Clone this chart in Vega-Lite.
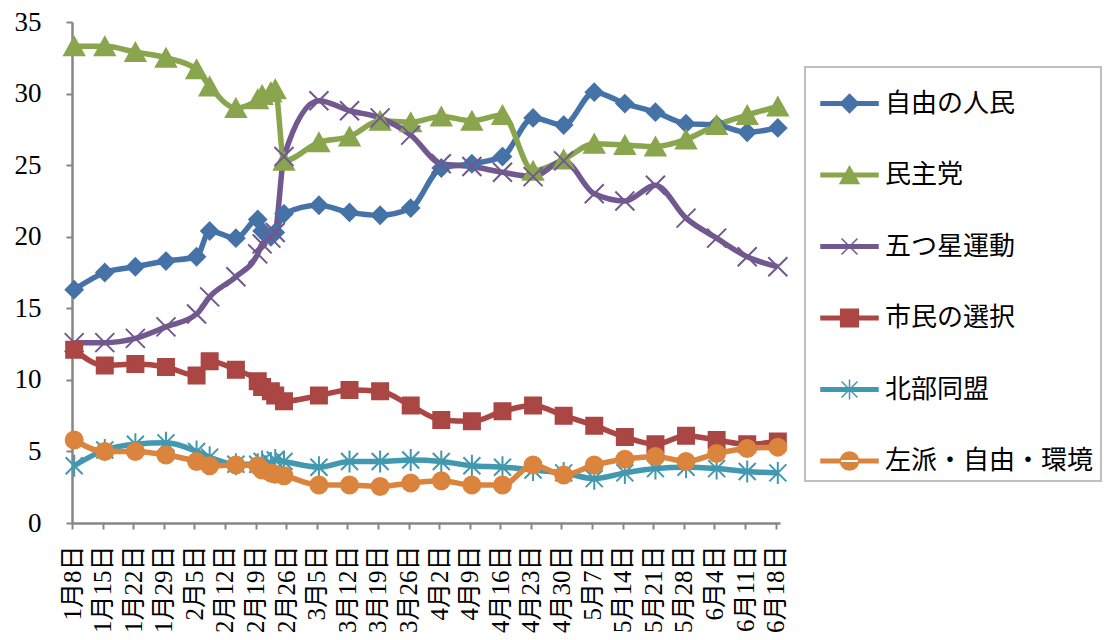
{
  "$schema": "https://vega.github.io/schema/vega-lite/v6.json",
  "width": 708,
  "height": 501,
  "autosize": "none",
  "padding": {"left": 72, "top": 22, "right": 330, "bottom": 117},
  "background": "white",
  "config": {"view": {"stroke": null}, "font": "'Liberation Serif','Noto Sans CJK JP'"},
  "data": {"values": [
    {"d":"2013-01-08T12:00","p":"自由の人民","v":16.3},{"d":"2013-01-15T12:00","p":"自由の人民","v":17.5},{"d":"2013-01-22T12:00","p":"自由の人民","v":17.9},{"d":"2013-01-29T12:00","p":"自由の人民","v":18.3},{"d":"2013-02-05T12:00","p":"自由の人民","v":18.6},{"d":"2013-02-08T12:00","p":"自由の人民","v":20.4},{"d":"2013-02-14T12:00","p":"自由の人民","v":19.9},{"d":"2013-02-19T12:00","p":"自由の人民","v":21.2},{"d":"2013-02-20T12:00","p":"自由の人民","v":20.4},{"d":"2013-02-22T12:00","p":"自由の人民","v":20.0},{"d":"2013-02-23T12:00","p":"自由の人民","v":20.3},{"d":"2013-02-25T12:00","p":"自由の人民","v":21.6},{"d":"2013-03-05T12:00","p":"自由の人民","v":22.2},{"d":"2013-03-12T12:00","p":"自由の人民","v":21.7},{"d":"2013-03-19T12:00","p":"自由の人民","v":21.5},{"d":"2013-03-26T12:00","p":"自由の人民","v":22.0},{"d":"2013-04-02T12:00","p":"自由の人民","v":24.8},{"d":"2013-04-09T12:00","p":"自由の人民","v":25.1},{"d":"2013-04-16T12:00","p":"自由の人民","v":25.6},{"d":"2013-04-23T12:00","p":"自由の人民","v":28.3},{"d":"2013-04-30T12:00","p":"自由の人民","v":27.8},{"d":"2013-05-07T12:00","p":"自由の人民","v":30.1},{"d":"2013-05-14T12:00","p":"自由の人民","v":29.3},{"d":"2013-05-21T12:00","p":"自由の人民","v":28.7},{"d":"2013-05-28T12:00","p":"自由の人民","v":27.9},{"d":"2013-06-04T12:00","p":"自由の人民","v":27.8},{"d":"2013-06-11T12:00","p":"自由の人民","v":27.3},{"d":"2013-06-18T12:00","p":"自由の人民","v":27.6},
    {"d":"2013-01-08T12:00","p":"民主党","v":33.3},{"d":"2013-01-15T12:00","p":"民主党","v":33.3},{"d":"2013-01-22T12:00","p":"民主党","v":32.9},{"d":"2013-01-29T12:00","p":"民主党","v":32.5},{"d":"2013-02-05T12:00","p":"民主党","v":31.7},{"d":"2013-02-08T12:00","p":"民主党","v":30.5},{"d":"2013-02-14T12:00","p":"民主党","v":29.0},{"d":"2013-02-19T12:00","p":"民主党","v":29.6},{"d":"2013-02-20T12:00","p":"民主党","v":29.9},{"d":"2013-02-22T12:00","p":"民主党","v":30.1},{"d":"2013-02-23T12:00","p":"民主党","v":30.3},{"d":"2013-02-25T12:00","p":"民主党","v":25.3},{"d":"2013-03-05T12:00","p":"民主党","v":26.6},{"d":"2013-03-12T12:00","p":"民主党","v":27.0},{"d":"2013-03-19T12:00","p":"民主党","v":28.1},{"d":"2013-03-26T12:00","p":"民主党","v":28.0},{"d":"2013-04-02T12:00","p":"民主党","v":28.4},{"d":"2013-04-09T12:00","p":"民主党","v":28.1},{"d":"2013-04-16T12:00","p":"民主党","v":28.5},{"d":"2013-04-23T12:00","p":"民主党","v":24.6},{"d":"2013-04-30T12:00","p":"民主党","v":25.4},{"d":"2013-05-07T12:00","p":"民主党","v":26.5},{"d":"2013-05-14T12:00","p":"民主党","v":26.4},{"d":"2013-05-21T12:00","p":"民主党","v":26.3},{"d":"2013-05-28T12:00","p":"民主党","v":26.8},{"d":"2013-06-04T12:00","p":"民主党","v":27.8},{"d":"2013-06-11T12:00","p":"民主党","v":28.5},{"d":"2013-06-18T12:00","p":"民主党","v":29.1},
    {"d":"2013-01-08T12:00","p":"五つ星運動","v":12.6},{"d":"2013-01-15T12:00","p":"五つ星運動","v":12.6},{"d":"2013-01-22T12:00","p":"五つ星運動","v":12.9},{"d":"2013-01-29T12:00","p":"五つ星運動","v":13.7},{"d":"2013-02-05T12:00","p":"五つ星運動","v":14.6},{"d":"2013-02-08T12:00","p":"五つ星運動","v":15.8},{"d":"2013-02-14T12:00","p":"五つ星運動","v":17.2},{"d":"2013-02-19T12:00","p":"五つ星運動","v":18.8},{"d":"2013-02-20T12:00","p":"五つ星運動","v":19.5},{"d":"2013-02-22T12:00","p":"五つ星運動","v":19.9},{"d":"2013-02-23T12:00","p":"五つ星運動","v":20.3},{"d":"2013-02-25T12:00","p":"五つ星運動","v":25.6},{"d":"2013-03-05T12:00","p":"五つ星運動","v":29.5},{"d":"2013-03-12T12:00","p":"五つ星運動","v":28.8},{"d":"2013-03-19T12:00","p":"五つ星運動","v":28.3},{"d":"2013-03-26T12:00","p":"五つ星運動","v":27.1},{"d":"2013-04-02T12:00","p":"五つ星運動","v":25.1},{"d":"2013-04-09T12:00","p":"五つ星運動","v":24.9},{"d":"2013-04-16T12:00","p":"五つ星運動","v":24.5},{"d":"2013-04-23T12:00","p":"五つ星運動","v":24.2},{"d":"2013-04-30T12:00","p":"五つ星運動","v":25.3},{"d":"2013-05-07T12:00","p":"五つ星運動","v":23.0},{"d":"2013-05-14T12:00","p":"五つ星運動","v":22.5},{"d":"2013-05-21T12:00","p":"五つ星運動","v":23.6},{"d":"2013-05-28T12:00","p":"五つ星運動","v":21.3},{"d":"2013-06-04T12:00","p":"五つ星運動","v":19.9},{"d":"2013-06-11T12:00","p":"五つ星運動","v":18.6},{"d":"2013-06-18T12:00","p":"五つ星運動","v":17.9},
    {"d":"2013-01-08T12:00","p":"市民の選択","v":12.1},{"d":"2013-01-15T12:00","p":"市民の選択","v":11.0},{"d":"2013-01-22T12:00","p":"市民の選択","v":11.1},{"d":"2013-01-29T12:00","p":"市民の選択","v":10.9},{"d":"2013-02-05T12:00","p":"市民の選択","v":10.3},{"d":"2013-02-08T12:00","p":"市民の選択","v":11.3},{"d":"2013-02-14T12:00","p":"市民の選択","v":10.7},{"d":"2013-02-19T12:00","p":"市民の選択","v":9.9},{"d":"2013-02-20T12:00","p":"市民の選択","v":9.5},{"d":"2013-02-22T12:00","p":"市民の選択","v":9.2},{"d":"2013-02-23T12:00","p":"市民の選択","v":8.9},{"d":"2013-02-25T12:00","p":"市民の選択","v":8.5},{"d":"2013-03-05T12:00","p":"市民の選択","v":8.9},{"d":"2013-03-12T12:00","p":"市民の選択","v":9.3},{"d":"2013-03-19T12:00","p":"市民の選択","v":9.2},{"d":"2013-03-26T12:00","p":"市民の選択","v":8.2},{"d":"2013-04-02T12:00","p":"市民の選択","v":7.2},{"d":"2013-04-09T12:00","p":"市民の選択","v":7.1},{"d":"2013-04-16T12:00","p":"市民の選択","v":7.8},{"d":"2013-04-23T12:00","p":"市民の選択","v":8.2},{"d":"2013-04-30T12:00","p":"市民の選択","v":7.5},{"d":"2013-05-07T12:00","p":"市民の選択","v":6.8},{"d":"2013-05-14T12:00","p":"市民の選択","v":6.0},{"d":"2013-05-21T12:00","p":"市民の選択","v":5.5},{"d":"2013-05-28T12:00","p":"市民の選択","v":6.1},{"d":"2013-06-04T12:00","p":"市民の選択","v":5.8},{"d":"2013-06-11T12:00","p":"市民の選択","v":5.5},{"d":"2013-06-18T12:00","p":"市民の選択","v":5.7},
    {"d":"2013-01-08T12:00","p":"北部同盟","v":4.0},{"d":"2013-01-15T12:00","p":"北部同盟","v":5.1},{"d":"2013-01-22T12:00","p":"北部同盟","v":5.5},{"d":"2013-01-29T12:00","p":"北部同盟","v":5.6},{"d":"2013-02-05T12:00","p":"北部同盟","v":5.0},{"d":"2013-02-08T12:00","p":"北部同盟","v":4.6},{"d":"2013-02-14T12:00","p":"北部同盟","v":4.1},{"d":"2013-02-19T12:00","p":"北部同盟","v":4.1},{"d":"2013-02-20T12:00","p":"北部同盟","v":4.3},{"d":"2013-02-22T12:00","p":"北部同盟","v":4.2},{"d":"2013-02-23T12:00","p":"北部同盟","v":4.4},{"d":"2013-02-25T12:00","p":"北部同盟","v":4.3},{"d":"2013-03-05T12:00","p":"北部同盟","v":3.9},{"d":"2013-03-12T12:00","p":"北部同盟","v":4.3},{"d":"2013-03-19T12:00","p":"北部同盟","v":4.3},{"d":"2013-03-26T12:00","p":"北部同盟","v":4.4},{"d":"2013-04-02T12:00","p":"北部同盟","v":4.3},{"d":"2013-04-09T12:00","p":"北部同盟","v":4.0},{"d":"2013-04-16T12:00","p":"北部同盟","v":3.9},{"d":"2013-04-23T12:00","p":"北部同盟","v":3.7},{"d":"2013-04-30T12:00","p":"北部同盟","v":3.5},{"d":"2013-05-07T12:00","p":"北部同盟","v":3.1},{"d":"2013-05-14T12:00","p":"北部同盟","v":3.5},{"d":"2013-05-21T12:00","p":"北部同盟","v":3.8},{"d":"2013-05-28T12:00","p":"北部同盟","v":3.9},{"d":"2013-06-04T12:00","p":"北部同盟","v":3.8},{"d":"2013-06-11T12:00","p":"北部同盟","v":3.6},{"d":"2013-06-18T12:00","p":"北部同盟","v":3.5},
    {"d":"2013-01-08T12:00","p":"左派・自由・環境","v":5.8},{"d":"2013-01-15T12:00","p":"左派・自由・環境","v":5.0},{"d":"2013-01-22T12:00","p":"左派・自由・環境","v":5.0},{"d":"2013-01-29T12:00","p":"左派・自由・環境","v":4.75},{"d":"2013-02-05T12:00","p":"左派・自由・環境","v":4.3},{"d":"2013-02-08T12:00","p":"左派・自由・環境","v":4.0},{"d":"2013-02-14T12:00","p":"左派・自由・環境","v":4.05},{"d":"2013-02-19T12:00","p":"左派・自由・環境","v":4.0},{"d":"2013-02-20T12:00","p":"左派・自由・環境","v":3.7},{"d":"2013-02-22T12:00","p":"左派・自由・環境","v":3.5},{"d":"2013-02-23T12:00","p":"左派・自由・環境","v":3.4},{"d":"2013-02-25T12:00","p":"左派・自由・環境","v":3.3},{"d":"2013-03-05T12:00","p":"左派・自由・環境","v":2.65},{"d":"2013-03-12T12:00","p":"左派・自由・環境","v":2.65},{"d":"2013-03-19T12:00","p":"左派・自由・環境","v":2.55},{"d":"2013-03-26T12:00","p":"左派・自由・環境","v":2.8},{"d":"2013-04-02T12:00","p":"左派・自由・環境","v":2.95},{"d":"2013-04-09T12:00","p":"左派・自由・環境","v":2.65},{"d":"2013-04-16T12:00","p":"左派・自由・環境","v":2.65},{"d":"2013-04-23T12:00","p":"左派・自由・環境","v":4.05},{"d":"2013-04-30T12:00","p":"左派・自由・環境","v":3.35},{"d":"2013-05-07T12:00","p":"左派・自由・環境","v":4.05},{"d":"2013-05-14T12:00","p":"左派・自由・環境","v":4.45},{"d":"2013-05-21T12:00","p":"左派・自由・環境","v":4.65},{"d":"2013-05-28T12:00","p":"左派・自由・環境","v":4.3},{"d":"2013-06-04T12:00","p":"左派・自由・環境","v":4.85},{"d":"2013-06-11T12:00","p":"左派・自由・環境","v":5.2},{"d":"2013-06-18T12:00","p":"左派・自由・環境","v":5.3}
  ]},
  "encoding": {
    "x": {
      "field": "d", "type": "temporal",
      "scale": {"domain": [{"year": 2013, "month": 1, "date": 8}, {"year": 2013, "month": 6, "date": 19}]},
      "axis": {
        "title": null, "grid": false,
        "values": [
          {"year":2013,"month":1,"date":8},{"year":2013,"month":1,"date":15},{"year":2013,"month":1,"date":22},{"year":2013,"month":1,"date":29},
          {"year":2013,"month":2,"date":5},{"year":2013,"month":2,"date":12},{"year":2013,"month":2,"date":19},{"year":2013,"month":2,"date":26},
          {"year":2013,"month":3,"date":5},{"year":2013,"month":3,"date":12},{"year":2013,"month":3,"date":19},{"year":2013,"month":3,"date":26},
          {"year":2013,"month":4,"date":2},{"year":2013,"month":4,"date":9},{"year":2013,"month":4,"date":16},{"year":2013,"month":4,"date":23},{"year":2013,"month":4,"date":30},
          {"year":2013,"month":5,"date":7},{"year":2013,"month":5,"date":14},{"year":2013,"month":5,"date":21},{"year":2013,"month":5,"date":28},
          {"year":2013,"month":6,"date":4},{"year":2013,"month":6,"date":11},{"year":2013,"month":6,"date":18}
        ],
        "labelExpr": "(month(datum.value) + 1) + '月' + date(datum.value) + '日'",
        "labelAngle": 270, "labelAlign": "right", "labelBaseline": "middle",
        "labelFontSize": 25, "labelColor": "#000000", "labelPadding": 16,
        "labelOverlap": false, "labelFlush": false, "labelBound": false,
        "tickSize": 6, "tickColor": "#868686", "tickWidth": 2,
        "domainColor": "#868686", "domainWidth": 2.5
      }
    },
    "y": {
      "field": "v", "type": "quantitative",
      "scale": {"domain": [0, 35], "nice": false, "zero": true},
      "axis": {
        "title": null, "grid": false,
        "values": [0, 5, 10, 15, 20, 25, 30, 35],
        "labelFontSize": 27, "labelColor": "#000000", "labelPadding": 25,
        "labelFlush": false, "labelBound": false,
        "tickSize": 6, "tickColor": "#868686", "tickWidth": 2,
        "domainColor": "#868686", "domainWidth": 2.5
      }
    }
  },
  "layer": [
    {
      "mark": {"type": "line", "strokeWidth": 5.5, "interpolate": "monotone"},
      "encoding": {
        "color": {
          "field": "p", "type": "nominal",
          "scale": {
            "domain": ["自由の人民", "民主党", "五つ星運動", "市民の選択", "北部同盟", "左派・自由・環境"],
            "range": ["#4572A7", "#89A54E", "#71588F", "#AA4643", "#4198AF", "#DB843D"]
          },
          "legend": {
            "orient": "none", "legendX": 733, "legendY": 45, "title": null,
            "labelFontSize": 26, "labelColor": "#000000", "labelOffset": 6, "labelLimit": 0,
            "strokeColor": "#bfbfbf", "padding": 7, "symbolOffset": 8,
            "rowPadding": 28.5, "symbolSize": 3249, "symbolStrokeWidth": 1.5,
            "encode": {
              "symbols": {"update": {
                "shape": {"signal": "datum.value === '自由の人民' ? 'M-1,-0.06L1,-0.06L1,0.06L-1,0.06ZM0,-0.32L0.32,0L0,0.32L-0.32,0Z' : datum.value === '民主党' ? 'M-1,-0.06L1,-0.06L1,0.06L-1,0.06ZM0,-0.3L0.33,0.3L-0.33,0.3Z' : datum.value === '五つ星運動' ? 'M-1,-0.06L1,-0.06L1,0.06L-1,0.06ZM-0.28,-0.28L0.28,0.28M-0.28,0.28L0.28,-0.28' : datum.value === '市民の選択' ? 'M-1,-0.06L1,-0.06L1,0.06L-1,0.06ZM-0.31,-0.31L0.31,-0.31L0.31,0.31L-0.31,0.31Z' : datum.value === '北部同盟' ? 'M-1,-0.06L1,-0.06L1,0.06L-1,0.06ZM-0.28,-0.28L0.28,0.28M-0.28,0.28L0.28,-0.28M0,-0.35L0,0.35' : 'M-1,-0.06L1,-0.06L1,0.06L-1,0.06ZM-0.32,0A0.32,0.32,0,1,0,0.32,0A0.32,0.32,0,1,0,-0.32,0Z'"},
                "fill": {"scale": "color", "field": "value"},
                "stroke": {"scale": "color", "field": "value"},
                "strokeWidth": {"value": 1.5},
                "size": {"value": 3249},
                "opacity": {"value": 1},
                "fillOpacity": {"value": 1}
              }},
              "legend": {"update": {"strokeWidth": {"value": 2}, "height": {"value": 428}, "width": {"value": 303}}}
            }
          }
        }
      }
    },
    {
      "transform": [{"filter": {"field": "p", "equal": "自由の人民"}}],
      "mark": {"type": "point", "shape": "M0,-0.85L0.85,0L0,0.85L-0.85,0Z", "filled": true, "fill": "#4572A7", "stroke": "#4572A7", "strokeWidth": 2, "size": 400, "opacity": 1}
    },
    {
      "transform": [{"filter": {"field": "p", "equal": "民主党"}}],
      "mark": {"type": "point", "shape": "M0,-0.9L1,0.9L-1,0.9Z", "filled": true, "fill": "#89A54E", "stroke": "#89A54E", "strokeWidth": 2, "size": 400, "opacity": 1}
    },
    {
      "transform": [{"filter": {"field": "p", "equal": "五つ星運動"}}],
      "mark": {"type": "point", "shape": "M-0.95,-0.95L0.95,0.95M-0.95,0.95L0.95,-0.95", "filled": false, "stroke": "#71588F", "strokeWidth": 2, "size": 400, "opacity": 1}
    },
    {
      "transform": [{"filter": {"field": "p", "equal": "市民の選択"}}],
      "mark": {"type": "point", "shape": "M-0.8,-0.8L0.8,-0.8L0.8,0.8L-0.8,0.8Z", "filled": true, "fill": "#AA4643", "stroke": "#AA4643", "strokeWidth": 2, "size": 400, "opacity": 1}
    },
    {
      "transform": [{"filter": {"field": "p", "equal": "北部同盟"}}],
      "mark": {"type": "point", "shape": "M-0.85,-0.85L0.85,0.85M-0.85,0.85L0.85,-0.85M0,-1.1L0,1.1", "filled": false, "stroke": "#4198AF", "strokeWidth": 2, "size": 400, "opacity": 1}
    },
    {
      "transform": [{"filter": {"field": "p", "equal": "左派・自由・環境"}}],
      "mark": {"type": "point", "shape": "M-0.85,0A0.85,0.85,0,1,0,0.85,0A0.85,0.85,0,1,0,-0.85,0Z", "filled": true, "fill": "#DB843D", "stroke": "#DB843D", "strokeWidth": 2, "size": 400, "opacity": 1}
    }
  ]
}
